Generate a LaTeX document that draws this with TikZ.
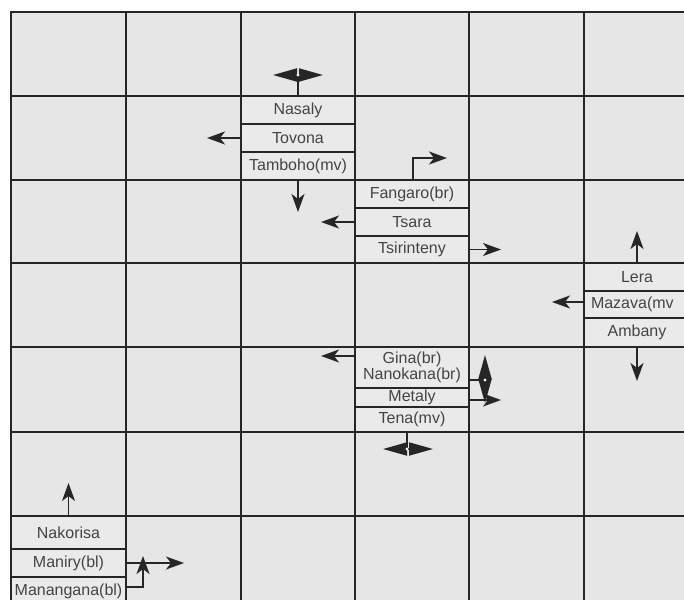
\documentclass[tikz,border=0pt]{standalone}
\usepackage{fontspec}
\setmainfont{Liberation Sans}
\usetikzlibrary{arrows.meta}
\definecolor{bg}{HTML}{E6E6E6}
\definecolor{boxbg}{HTML}{EAEAEA}
\definecolor{ln}{HTML}{262626}
\definecolor{txt}{HTML}{444444}
\begin{document}
\begin{tikzpicture}[x=1pt,y=-1pt,
  gridline/.style={ln, line width=2.2pt},
  lbl/.style={draw=ln, line width=2.2pt, fill=boxbg, text=txt, inner sep=0pt, align=center,
    font=\fontsize{16}{18}\selectfont},
  wbox/.style={lbl, minimum width=114pt},
  arr/.style={ln, line width=1.8pt, -{Stealth[length=18pt,width=13pt,inset=5pt]}},
  stem/.style={ln, line width=1.8pt},
  dbl/.style={ln, line width=1.8pt, {Stealth[length=24pt,width=13pt,inset=0pt]}-{Stealth[length=24pt,width=13pt,inset=0pt]}},
  hub/.style={fill=bg!40!white, draw=none},
]
\useasboundingbox (0,0) rectangle (684,599);
\clip (0,0) rectangle (684,599);
\fill[white] (0,0) rectangle (684,599);
\fill[bg] (11,12) rectangle (690,605);
\foreach \x in {11,126,241,355,469,584} \draw[gridline] (\x,12) -- (\x,605);
\foreach \y in {12,96,180,263,347,432,516} \draw[gridline] (10,\y) -- (690,\y);

% column 3 stack
\node[wbox, minimum height=28pt] (nasaly) at (298,110) {Nasaly};
\node[wbox, minimum height=28pt] (tovona) at (298,138) {Tovona};
\node[wbox, minimum height=28pt] (tamboho) at (298,166) {Tamboho(mv)};
% column 4 stack
\node[wbox, minimum height=28pt] (fangaro) at (412,194) {Fangaro(br)};
\node[wbox, minimum height=28pt] (tsara) at (412,222) {Tsara};
\node[wbox, minimum height=27pt] (tsir) at (412,249.5) {Tsirinteny};
% column 6 stack
\node[lbl, minimum width=106pt, minimum height=28pt] (lera) at (637,277) {Lera};
\node[lbl, minimum width=106pt, minimum height=27pt, text width=100pt, align=left] (mazava) at (637,304.5) {\hspace*{4pt}Mazava(mv};
\node[lbl, minimum width=106pt, minimum height=29pt] (ambany) at (637,332.5) {Ambany};
% column 4 lower stack
\node[wbox, minimum height=41pt] (gina) at (412,367.5) {Gina(br)\\[-2pt]Nanokana(br)};
\node[wbox, minimum height=19pt] (metaly) at (412,397.5) {Metaly};
\node[wbox, minimum height=25pt] (tena) at (412,419.5) {Tena(mv)};
% column 1 stack
\node[lbl, minimum width=115pt, minimum height=33pt] (nakorisa) at (68.5,532.5) {Nakorisa};
\node[lbl, minimum width=115pt, minimum height=28pt] (maniry) at (68.5,563) {Maniry(bl)};
\node[lbl, minimum width=115pt, minimum height=28pt] (manangana) at (68.5,591) {Manangana(bl)};

% coordinates for free ends
\coordinate (na0) at (298,75);
\coordinate (na1) at (273,75);
\coordinate (na2) at (323,75);
\coordinate (tovT) at (207,138);
\coordinate (tamT) at (298,212);
\coordinate (faT) at (447,158);
\coordinate (tsaT) at (321,222);
\coordinate (tsiT) at (501,249.5);
\coordinate (leT) at (637,231);
\coordinate (maT) at (552,302);
\coordinate (amT) at (637,381);
\coordinate (giT) at (321,356);
\coordinate (nk0) at (485,380);
\coordinate (nk1) at (485,355);
\coordinate (nk2) at (485,403);
\coordinate (meT) at (501,400);
\coordinate (te0) at (407,449);
\coordinate (te1) at (383,449);
\coordinate (te2) at (433,449);
\coordinate (nakT) at (68.5,483);
\coordinate (mnT) at (184,563);
\coordinate (mgT) at (143,556);

% connectors
\draw[stem] (nasaly.north) -- (na0);
\draw[dbl] (na1) -- (na2);
\fill[hub] (na0) circle (1.6pt);
\draw[arr] (tovona.west) -- (tovT);
\draw[arr] (tamboho.south) -- (tamT);
\draw[arr] ([xshift=1pt]fangaro.north) |- (faT);
\draw[arr] (tsara.west) -- (tsaT);
\draw[arr] (tsir.east) -- (tsiT);
\draw[arr] (lera.north) -- (leT);
\draw[arr] ([yshift=2.5pt]mazava.west) -- (maT);
\draw[arr] (ambany.south) -- (amT);
\draw[arr] ([yshift=11.5pt]gina.west) -- (giT);
\draw[stem] ([yshift=-12.5pt]gina.east) -- (nk0);
\draw[dbl] (nk1) -- (nk2);
\fill[hub] (nk0) circle (1.6pt);
\draw[arr] ([yshift=-2.5pt]metaly.east) -- (meT);
\draw[stem] ([xshift=-5pt]tena.south) -- (te0);
\draw[dbl] (te1) -- (te2);
\fill[hub] (te0) circle (1.6pt);
\draw[arr] (nakorisa.north) -- (nakT);
\draw[arr] (maniry.east) -- (mnT);
\draw[arr] ([yshift=4pt]manangana.east) -| (mgT);
\end{tikzpicture}
\end{document}
